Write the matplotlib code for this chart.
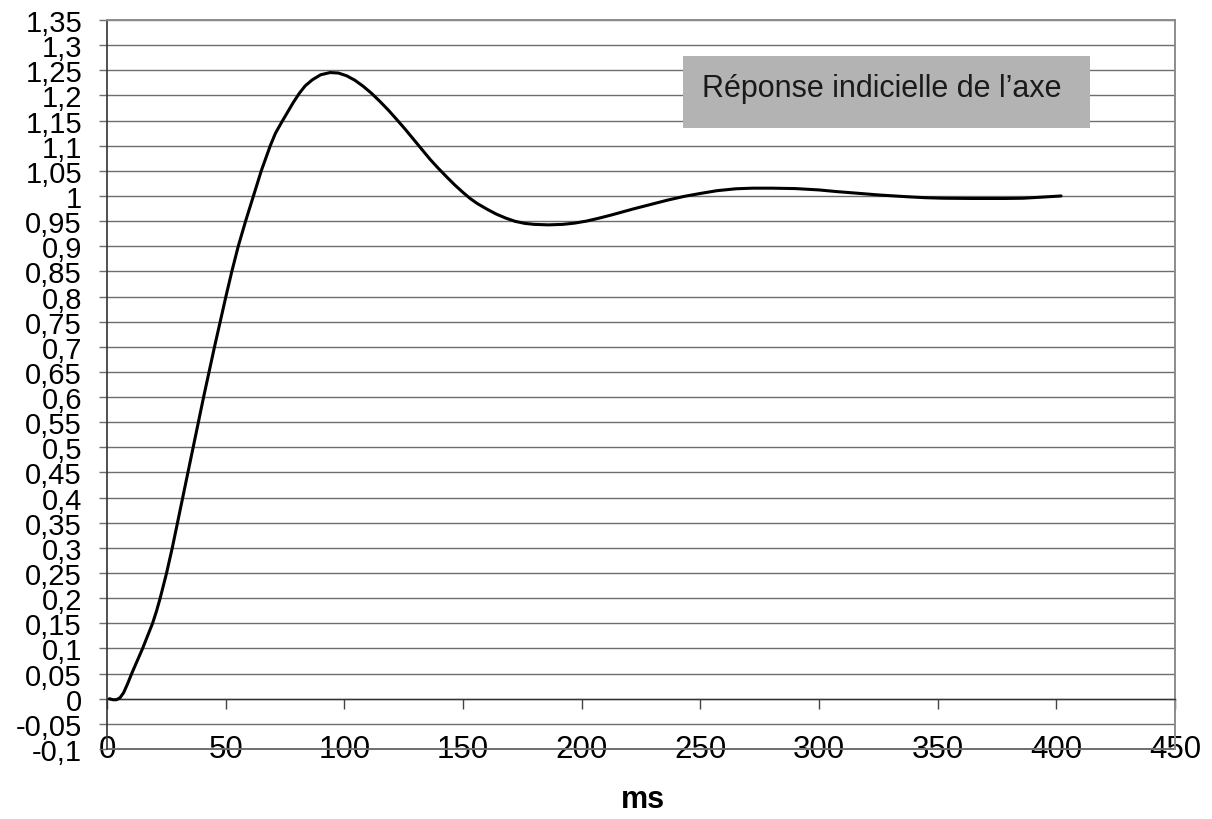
import numpy as np
import matplotlib
matplotlib.use("Agg")
import matplotlib.pyplot as plt
from matplotlib.patches import Rectangle

plt.rcParams["font.family"] = ["Liberation Sans", "DejaVu Sans"]

# step response (time in ms, normalised output)
T_MS = [1, 2.5, 4, 5.5, 7, 8.7, 10.4, 12.7, 15, 17.1, 19.2, 20.9, 22.4,
        25.1, 27.5, 29.7, 31.9, 34.1, 36.3, 38.5, 40.7, 43.0, 45.3, 47.7,
        50.1, 52.6, 55.3, 58.4, 61.7, 65.0, 68.8, 71, 73.5, 76, 78.5,
        81, 83.5, 86.5, 90, 94, 97.5, 101, 104.5, 108, 111.5, 115, 118.5,
        122.1, 125.6, 129.1, 132.6, 136.1, 139.6, 143.1, 146.5, 150, 153,
        156, 160, 164, 168, 172, 176, 180, 186, 192, 197, 202, 207, 212,
        217, 222, 229, 236, 243, 250, 257, 265, 272, 280, 290, 300, 307.4,
        316, 325.7, 337, 345, 352.4, 365, 378, 386, 395, 402]
RESPONSE = [0.0, -0.002, -0.002, 0.002, 0.012, 0.03, 0.05, 0.075, 0.1,
            0.125, 0.15, 0.175, 0.2, 0.25, 0.3, 0.35, 0.4, 0.45, 0.5, 0.55,
            0.6, 0.65, 0.7, 0.75, 0.8, 0.85, 0.9, 0.95, 1.0, 1.05, 1.1,
            1.125, 1.146, 1.166, 1.186, 1.204, 1.219, 1.231, 1.241, 1.2455,
            1.2445, 1.239, 1.23, 1.218, 1.204, 1.188, 1.171, 1.152, 1.133,
            1.113, 1.093, 1.073, 1.055, 1.038, 1.022, 1.007, 0.995, 0.985,
            0.974, 0.964, 0.956, 0.9495, 0.9455, 0.9435, 0.9425, 0.9435,
            0.946, 0.95, 0.9555, 0.9615, 0.968, 0.9745, 0.983, 0.9915,
            0.999, 1.005, 1.0105, 1.0143, 1.0155, 1.0155, 1.0147, 1.012,
            1.0087, 1.0055, 1.0018, 0.9985, 0.9965, 0.9955, 0.995, 0.995,
            0.9955, 0.998, 1.0]

X_TICKS = [0, 50, 100, 150, 200, 250, 300, 350, 400, 450]
Y_TICKS = [round(-0.1 + 0.05 * i, 2) for i in range(30)]
Y_TICK_LABELS = [f"{v:g}".replace(".", ",") for v in Y_TICKS]

BOX_TEXT = "Réponse indicielle de l’axe"
X_LABEL = "ms"

GRID = "#6e6e6e"

fig = plt.figure(figsize=(12.12, 8.2), dpi=100)
ax = fig.add_axes([107 / 1212, 1 - 750 / 820, 1068 / 1212, 729 / 820])

ax.plot(T_MS, RESPONSE, color="black", lw=2.2, zorder=3,
        solid_joinstyle="round", solid_capstyle="round")

ax.set_xlim(0, 450)
ax.set_ylim(-0.1, 1.35)
ax.set_xticks(X_TICKS)
ax.set_yticks(Y_TICKS)
ax.set_yticklabels(Y_TICK_LABELS)

ax.grid(axis="y", color=GRID, lw=1.0)
ax.set_axisbelow(True)

ax.spines["bottom"].set_position(("data", 0))
ax.spines["bottom"].set_color("#333333")
ax.spines["bottom"].set_linewidth(1.0)
ax.spines["left"].set_color("#333333")
ax.spines["left"].set_linewidth(1.2)
for side in ("top", "right"):
    ax.spines[side].set_color("#8c8c8c")
    ax.spines[side].set_linewidth(1.4)
ax.axhline(-0.1, color=GRID, lw=1.4, clip_on=False)

ax.tick_params(axis="x", direction="out", length=7, width=1.0,
               color="#444444", labelsize=22.5, pad=18.5)
ax.tick_params(axis="y", direction="out", length=6, width=1.0,
               color=GRID, labelsize=21, pad=12)

# grey title box
ax.add_patch(Rectangle((0.539, 0.852), 0.381, 0.0986, transform=ax.transAxes,
                       facecolor="#b3b3b3", edgecolor="none", zorder=4))
ax.text(0.7257, 0.896, BOX_TEXT, transform=ax.transAxes, ha="center",
        va="baseline", fontsize=22, color="#1a1a1a", zorder=5)

fig.text(643 / 1212, 1 - 800 / 820, X_LABEL, ha="center", va="center",
         fontsize=22, fontweight="bold")

fig.savefig("out.png", dpi=100)
plt.close(fig)
